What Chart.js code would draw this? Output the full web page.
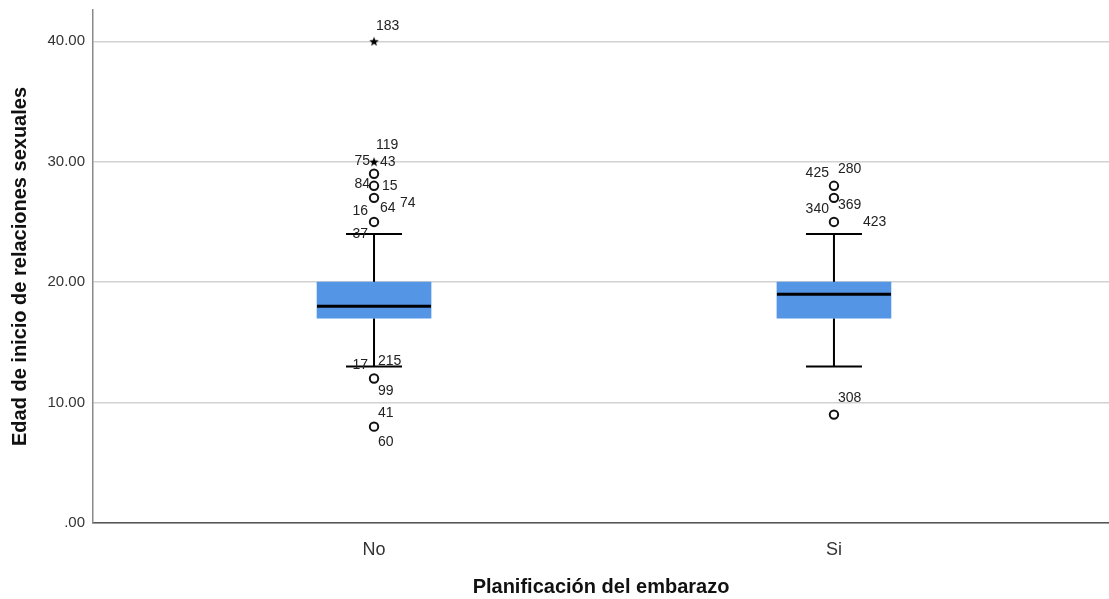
<!DOCTYPE html>
<html>
<head>
<meta charset="utf-8">
<script src="https://cdn.jsdelivr.net/npm/chart.js@4"></script>
<style>
  html, body { margin: 0; padding: 0; background: #ffffff; }
  #wrap { width: 1109px; height: 599px; }
</style>
</head>
<body>
<div id="wrap"><canvas id="c" width="1109" height="599"></canvas></div>
<script>
// ---- data ----
const categories = ['No', 'Si'];
const q1Values = [17, 17];
const medianValues = [18, 19];
const q3Values = [20, 20];
const lowerWhisker = [13, 13];
const upperWhisker = [24, 24];

// outliers (circles) and extremes (stars)
const noOutliers = [29, 28, 27, 25, 12, 8];
const noExtremes = [40, 30];
const siOutliers = [28, 27, 25, 9];
const siExtremes = [];

// case labels: [category, attached value, text]
const caseLabels = [
  ['No', 40, '183'],
  ['No', 30, '119'],
  ['No', 30, '75'],
  ['No', 30, '43'],
  ['No', 28, '84'],
  ['No', 28, '15'],
  ['No', 25, '16'],
  ['No', 25, '64'],
  ['No', 25, '74'],
  ['No', 24, '37'],
  ['No', 12, '17'],
  ['No', 12, '215'],
  ['No', 12, '99'],
  ['No', 8, '41'],
  ['No', 8, '60'],
  ['Si', 28, '425'],
  ['Si', 28, '280'],
  ['Si', 25, '340'],
  ['Si', 25, '369'],
  ['Si', 25, '423'],
  ['Si', 9, '308']
];
const yTicks = [0, 10, 20, 30, 40];
const xTicks = [0, 1];

// ---- label placement (style only): [dx, dy, align] ----
const labelPlacement = [
  [2, -15, 'left'],
  [2, -17, 'left'],
  [-4, -1, 'right'],
  [6, 0, 'left'],
  [-4, -2, 'right'],
  [8, 0, 'left'],
  [-6, -11, 'right'],
  [6, -14, 'left'],
  [26, -19, 'left'],
  [-6, 0, 'right'],
  [-6, -13, 'right'],
  [4, -17, 'left'],
  [4, 13, 'left'],
  [4, -14, 'left'],
  [4, 15, 'left'],
  [-5, -13, 'right'],
  [4, -17, 'left'],
  [-5, -13, 'right'],
  [4, -17, 'left'],
  [29, 0, 'left'],
  [4, -16, 'left']
];

// star point image
function makeStar(size) {
  const c = document.createElement('canvas');
  c.width = size; c.height = size;
  const g = c.getContext('2d');
  const cx = size / 2, cy = size / 2 + 0.5, R = size / 2, r = R * 0.42;
  g.beginPath();
  for (let i = 0; i < 10; i++) {
    const a = -Math.PI / 2 + i * Math.PI / 5;
    const rad = i % 2 === 0 ? R : r;
    g.lineTo(cx + rad * Math.cos(a), cy + rad * Math.sin(a));
  }
  g.closePath();
  g.fillStyle = '#000';
  g.fill();
  return c;
}
const starImg = makeStar(10);

const toPts = (cat, arr) => arr.map(v => ({ x: categories.indexOf(cat), y: v }));

const boxPlugin = {
  id: 'boxParts',
  beforeDatasetsDraw(chart) {
    const { ctx, scales: { x, y } } = chart;
    ctx.save();
    ctx.strokeStyle = '#000';
    ctx.lineWidth = 2;
    categories.forEach((c, i) => {
      const cx = x.getPixelForValue(i);
      const capHalf = 28;
      ctx.beginPath();
      ctx.moveTo(cx, y.getPixelForValue(q3Values[i]));
      ctx.lineTo(cx, y.getPixelForValue(upperWhisker[i]));
      ctx.moveTo(cx - capHalf, y.getPixelForValue(upperWhisker[i]));
      ctx.lineTo(cx + capHalf, y.getPixelForValue(upperWhisker[i]));
      ctx.moveTo(cx, y.getPixelForValue(q1Values[i]));
      ctx.lineTo(cx, y.getPixelForValue(lowerWhisker[i]));
      ctx.moveTo(cx - capHalf, y.getPixelForValue(lowerWhisker[i]));
      ctx.lineTo(cx + capHalf, y.getPixelForValue(lowerWhisker[i]));
      ctx.stroke();
    });
    ctx.restore();
  },
  afterDatasetsDraw(chart) {
    const { ctx, scales: { x, y } } = chart;
    const meta = chart.getDatasetMeta(0);
    ctx.save();
    ctx.strokeStyle = '#000';
    ctx.lineWidth = 3;
    categories.forEach((c, i) => {
      const bar = meta.data[i];
      const half = bar.width / 2;
      const my = y.getPixelForValue(medianValues[i]);
      ctx.beginPath();
      ctx.moveTo(bar.x - half, my);
      ctx.lineTo(bar.x + half, my);
      ctx.stroke();
    });
    ctx.fillStyle = '#222';
    ctx.font = '14px "Liberation Sans", Arial, sans-serif';
    ctx.textBaseline = 'middle';
    caseLabels.forEach((l, k) => {
      const [cat, val, txt] = l;
      const [dx, dy, align] = labelPlacement[k];
      const px = x.getPixelForValue(categories.indexOf(cat));
      const py = y.getPixelForValue(val);
      ctx.textAlign = align;
      ctx.fillText(txt, px + dx, py + dy);
    });
    ctx.restore();
  }
};

new Chart(document.getElementById('c'), {
  type: 'bar',
  data: {
    datasets: [
      {
        type: 'bar',
        data: categories.map((c, i) => ({ x: i, y: [q1Values[i], q3Values[i]] })),
        backgroundColor: '#5595e5',
        borderWidth: 0,
        barThickness: 114,
        grouped: false,
        order: 3
      },
      {
        type: 'scatter',
        data: toPts('No', noOutliers).concat(toPts('Si', siOutliers)),
        pointStyle: 'circle',
        pointRadius: 4.2,
        pointBorderWidth: 2,
        pointBorderColor: '#111',
        pointBackgroundColor: '#fff',
        showLine: false,
        order: 1
      },
      {
        type: 'scatter',
        data: toPts('No', noExtremes).concat(toPts('Si', siExtremes)),
        pointStyle: starImg,
        pointRadius: 5,
        showLine: false,
        order: 1
      }
    ]
  },
  options: {
    responsive: false,
    animation: false,
    events: [],
    layout: { autoPadding: false, padding: { top: 10, right: 0, left: 0, bottom: 0 } },
    plugins: { legend: { display: false }, tooltip: { enabled: false } },
    scales: {
      x: {
        type: 'linear',
        min: -0.611,
        max: 1.598,
        offset: false,
        grid: { display: false },
        border: { display: true, color: '#555', width: 1.5 },
        afterBuildTicks(s) { s.ticks = xTicks.map(v => ({ value: v })); },
        ticks: {
          color: '#333',
          padding: 8,
          font: { family: '"Liberation Sans", Arial, sans-serif', size: 18 },
          callback: v => categories[v]
        },
        title: {
          display: true,
          text: 'Planificación del embarazo',
          color: '#111',
          font: { family: '"Liberation Sans", Arial, sans-serif', size: 20, weight: 'bold' },
          padding: { top: 0, bottom: 0 }
        },
        afterFit(s) {
          s.height = 76;
          s.paddingLeft = 0; s.paddingRight = 0; s.paddingTop = 0; s.paddingBottom = 0;
        }
      },
      y: {
        type: 'linear',
        min: 0,
        max: 42.6,
        grid: { color: '#d2d2d2', lineWidth: 1.5, drawTicks: false },
        border: { display: true, color: '#8a8a8a', width: 1.5 },
        afterBuildTicks(s) { s.ticks = yTicks.map(v => ({ value: v })); },
        ticks: {
          color: '#333',
          padding: 8,
          font: { family: '"Liberation Sans", Arial, sans-serif', size: 15 },
          callback: v => (v === 0 ? '.00' : Number(v).toFixed(2))
        },
        title: {
          display: true,
          text: 'Edad de inicio de relaciones sexuales',
          color: '#111',
          font: { family: '"Liberation Sans", Arial, sans-serif', size: 20, weight: 'bold' },
          padding: { top: 8, bottom: 0 }
        },
        afterFit(s) {
          s.width = 93;
          s.paddingLeft = 0; s.paddingRight = 0; s.paddingTop = 0; s.paddingBottom = 0;
        }
      }
    }
  },
  plugins: [boxPlugin]
});
</script>
</body>
</html>
